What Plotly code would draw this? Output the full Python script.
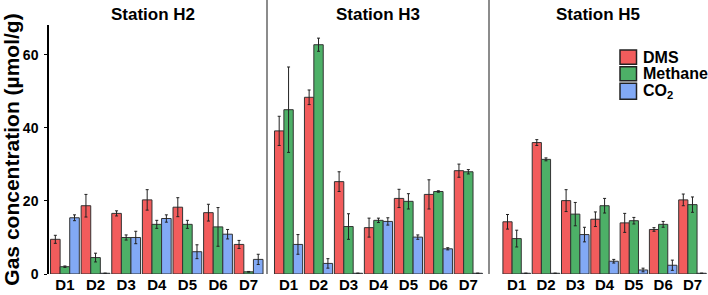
import plotly.graph_objects as go

stations = ["Station H2", "Station H3", "Station H5"]
depths = ["D1", "D2", "D3", "D4", "D5", "D6", "D7"]
gases = ["DMS", "Methane", "CO<sub>2</sub>"]
colors = ["#F25C5C", "#4DB067", "#82A9F5"]

# values per station: [DMS, Methane, CO2] each over D1..D7
h2_dms = [9.5, 18.7, 16.6, 20.3, 18.3, 16.8, 8.1]
h2_dms_err = [1.1, 3.1, 0.7, 2.8, 2.6, 2.3, 1.1]
h2_ch4 = [2.0, 4.5, 10.0, 13.6, 13.6, 12.9, 0.6]
h2_ch4_err = [0.2, 1.2, 0.7, 1.1, 1.1, 5.3, 0.1]
h2_co2 = [15.4, 0.2, 10.0, 15.2, 6.1, 10.9, 4.0]
h2_co2_err = [0.8, 0.0, 1.7, 1.0, 1.9, 1.3, 1.4]

h3_dms = [39.2, 48.4, 25.3, 12.7, 20.7, 21.8, 28.3]
h3_dms_err = [4.0, 2.0, 2.7, 2.6, 2.5, 4.0, 1.8]
h3_ch4 = [45.0, 62.8, 13.0, 14.7, 19.9, 22.6, 28.0]
h3_ch4_err = [11.7, 1.8, 3.5, 0.6, 2.1, 0.2, 0.6]
h3_co2 = [8.1, 2.9, 0.2, 14.4, 10.1, 6.9, 0.2]
h3_co2_err = [2.7, 1.3, 0.0, 1.0, 0.6, 0.3, 0.0]

h5_dms = [14.3, 36.0, 20.1, 15.0, 14.0, 12.2, 20.3]
h5_dms_err = [2.0, 0.8, 3.0, 2.0, 2.6, 0.5, 1.6]
h5_ch4 = [9.7, 31.4, 16.4, 18.7, 14.6, 13.6, 19.0]
h5_ch4_err = [2.3, 0.4, 3.2, 2.0, 0.9, 0.8, 2.1]
h5_co2 = [0.2, 0.2, 10.8, 3.5, 1.1, 2.4, 0.2]
h5_co2_err = [0.0, 0.0, 2.0, 0.5, 0.5, 1.4, 0.0]

yticks = [0, 20, 40, 60]

data = [
    [(h2_dms, h2_dms_err), (h2_ch4, h2_ch4_err), (h2_co2, h2_co2_err)],
    [(h3_dms, h3_dms_err), (h3_ch4, h3_ch4_err), (h3_co2, h3_co2_err)],
    [(h5_dms, h5_dms_err), (h5_ch4, h5_ch4_err), (h5_co2, h5_co2_err)],
]

W, H = 708, 295
L, R, T, B = 49, 0, 25, 21
pw, ph = W - L - R, H - T - B

def px_x(p):
    return (p - L) / pw

def px_y(p):
    return (H - B - p) / ph

FONT = "Liberation Sans, Arial, sans-serif"

fig = go.Figure()
axnames = ["", "2", "3"]
for si, st in enumerate(data):
    for gi, (vals, errs) in enumerate(st):
        fig.add_trace(go.Bar(
            x=depths, y=vals, name=gases[gi],
            marker=dict(color=colors[gi], line=dict(color="#333333", width=1)),
            error_y=dict(type="data", array=errs, visible=True,
                         color="#222222", thickness=1, width=1.5),
            xaxis="x" + axnames[si], yaxis="y" + axnames[si],
            showlegend=False,
        ))

panel_px = [(49, 267), (267, 489), (489, 708)]
ranges = [[-0.52, 6.60], [-0.72, 6.69], [-0.945, 6.53]]
title_px = [153, 378, 598]

layout = dict(
    width=W, height=H,
    margin=dict(l=L, r=R, t=T, b=B),
    paper_bgcolor="white", plot_bgcolor="white",
    barmode="group", bargap=0.06, bargroupgap=0,
    font=dict(family=FONT, color="black"),
)
for si in range(3):
    a, b = panel_px[si]
    layout["xaxis" + axnames[si]] = dict(
        domain=[px_x(a), min(px_x(b), 1.0)],
        range=ranges[si], type="category",
        showline=False, showgrid=False, zeroline=False, ticks="",
        tickfont=dict(size=15, family=FONT, weight=700, color="black"),
        anchor="y" + axnames[si], automargin=False,
    )
    yax = dict(
        range=[0, 68.2], domain=[0, 1], showgrid=False, zeroline=False,
        anchor="x" + axnames[si], automargin=False,
    )
    if si == 0:
        yax.update(showline=True, linecolor="black", linewidth=1.5,
                   ticks="outside", ticklen=3, tickcolor="black",
                   tickvals=yticks, ticklabelstandoff=3,
                   tickfont=dict(size=14, family=FONT, weight=700, color="black"),
                   title=dict(text="Gas concentration (µmol/g)", standoff=4,
                              font=dict(size=21, family=FONT, weight=700, color="black")))
    else:
        yax.update(matches="y", showticklabels=False, showline=False, ticks="")
    layout["yaxis" + axnames[si]] = yax

fig.update_layout(**layout)

# facet titles
for si in range(3):
    fig.add_annotation(text=stations[si], xref="paper", yref="paper",
                       x=px_x(title_px[si]), y=px_y(15), showarrow=False,
                       xanchor="center", yanchor="middle",
                       font=dict(size=17, family=FONT, weight=700, color="black"))

# panel dividers
for xp in [267, 489]:
    fig.add_shape(type="line", xref="paper", yref="paper",
                  x0=px_x(xp), x1=px_x(xp), y0=0, y1=px_y(0),
                  line=dict(color="#666666", width=1.5))

# legend
leg_rows = [(50, 64.3), (66.7, 80.7), (83.3, 99.3)]
for gi, (y0, y1) in enumerate(leg_rows):
    fig.add_shape(type="rect", xref="paper", yref="paper",
                  x0=px_x(620), x1=px_x(636.5), y0=px_y(y1), y1=px_y(y0),
                  fillcolor=colors[gi], line=dict(color="#222222", width=1.5))
    fig.add_annotation(text=gases[gi], xref="paper", yref="paper",
                       x=px_x(641), y=px_y((y0 + y1) / 2), showarrow=False,
                       xanchor="left", yanchor="middle",
                       font=dict(size=16, family=FONT, weight=700, color="black"))

fig.write_html("out.html", config={"displayModeBar": False},
               post_script="document.body.style.margin='0';document.body.style.overflow='hidden';")
